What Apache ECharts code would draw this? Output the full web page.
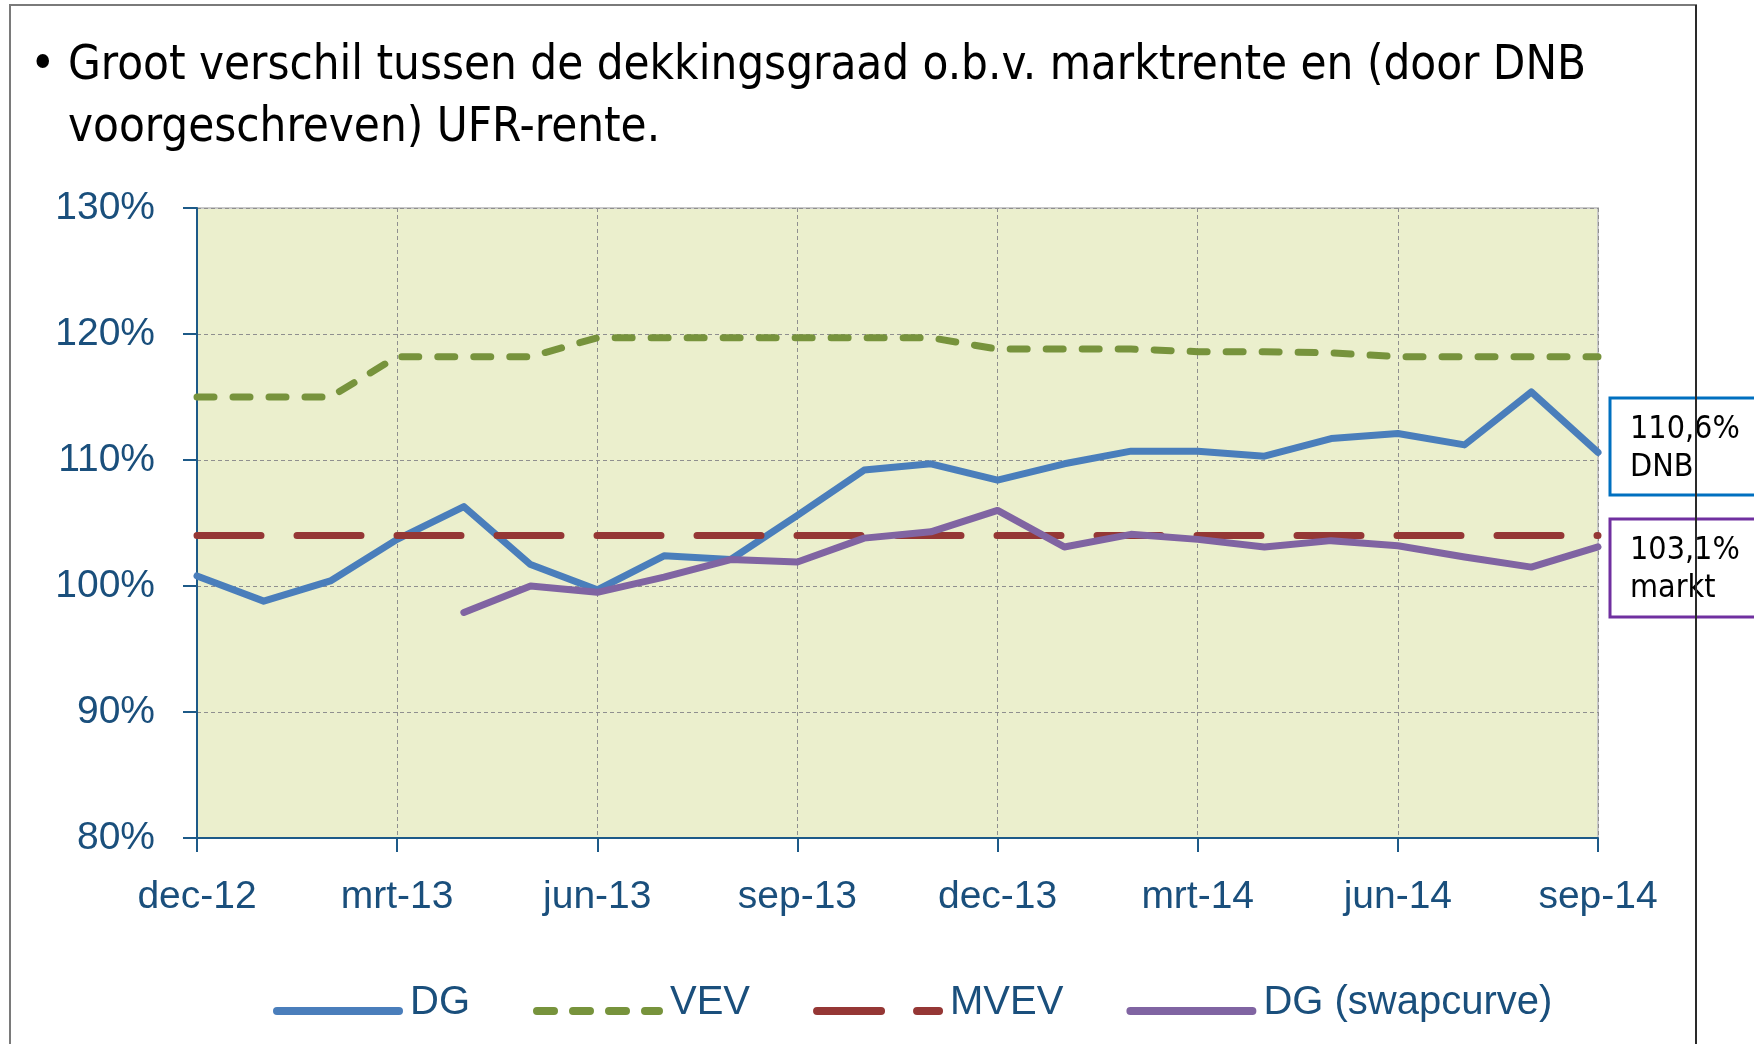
<!DOCTYPE html>
<html lang="nl">
<head>
    <meta charset="UTF-8">
    <title>dekkingsgraad</title>
    <script src="https://cdn.jsdelivr.net/npm/echarts@6.0.0/dist/echarts.min.js"></script>
    <style>
        html, body { margin: 0; padding: 0; background: #fff; }
    </style>
</head>
<body>
    <div id="main" style="width: 1754px;height:1044px;"></div>

    <script>
        // maanden (dec-12 t/m sep-14), alleen elke 3e wordt als label getoond
        var months = ['dec-12', 'jan-13', 'feb-13', 'mrt-13', 'apr-13', 'mei-13', 'jun-13', 'jul-13', 'aug-13',
            'sep-13', 'okt-13', 'nov-13', 'dec-13', 'jan-14', 'feb-14', 'mrt-14', 'apr-14', 'mei-14',
            'jun-14', 'jul-14', 'aug-14', 'sep-14'];
        var seriesNames = ['DG', 'VEV', 'MVEV', 'DG (swapcurve)'];

        // dekkingsgraad in %
        var dg = [100.8, 98.8, 100.4, 103.7, 106.3, 101.7, 99.7, 102.4, 102.1, 105.6, 109.2, 109.7,
            108.4, 109.7, 110.7, 110.7, 110.3, 111.7, 112.1, 111.2, 115.4, 110.6];
        var vev = [115.0, 115.0, 115.0, 118.2, 118.2, 118.2, 119.7, 119.7, 119.7, 119.7, 119.7, 119.7,
            118.8, 118.8, 118.8, 118.6, 118.6, 118.5, 118.2, 118.2, 118.2, 118.2];
        var mvev = [104, 104, 104, 104, 104, 104, 104, 104, 104, 104, 104, 104,
            104, 104, 104, 104, 104, 104, 104, 104, 104, 104];
        var dgSwap = [null, null, null, null, 97.9, 100.0, 99.5, 100.7, 102.1, 101.9, 103.8, 104.3,
            106.0, 103.1, 104.1, 103.7, 103.1, 103.6, 103.2, 102.3, 101.5, 103.1];

        var title1 = 'Groot verschil tussen de dekkingsgraad o.b.v. marktrente en (door DNB';
        var title2 = 'voorgeschreven) UFR-rente.';
        var noteDnb = ['110,6%', 'DNB'];
        var noteMarkt = ['103,1%', 'markt'];

        var axisBlue = '#1d5a88';
        var labelBlue = '#1a4f7c';
        var titleFont = '"DejaVu Sans Condensed", "DejaVu Sans", sans-serif';
        var labelFont = '"Liberation Sans", Arial, sans-serif';

        var myChart = echarts.init(document.getElementById('main'));

        function lineSeries(name, data, color, type) {
            return {
                name: name,
                type: 'line',
                data: data,
                symbol: 'none',
                connectNulls: false,
                lineStyle: {
                    color: color,
                    width: 7,
                    type: type,
                    cap: 'round',
                    join: 'round'
                },
                itemStyle: { color: color }
            };
        }

        var option = {
            animation: false,
            backgroundColor: '#ffffff',
            grid: {
                left: 197,
                right: 156,
                top: 208,
                bottom: 206,
                show: true,
                backgroundColor: '#ebefcd',
                borderColor: '#c9c9c9',
                borderWidth: 2
            },
            legend: {
                left: 268,
                top: 978,
                itemWidth: 122,
                itemHeight: 14,
                itemGap: 63,
                data: seriesNames,
                // lege tweede regel: tekst staat iets boven het lijnstukje
                formatter: '{name}\n ',
                lineStyle: { width: 8, cap: 'round' },
                itemStyle: { opacity: 0 },
                textStyle: {
                    fontFamily: labelFont,
                    fontSize: 40,
                    lineHeight: 16,
                    color: labelBlue,
                    padding: [0, 0, 0, 6]
                }
            },
            xAxis: {
                type: 'category',
                boundaryGap: false,
                data: months,
                axisLine: { lineStyle: { color: axisBlue, width: 2 } },
                axisTick: { interval: 2, length: 14, lineStyle: { color: axisBlue, width: 2 } },
                axisLabel: {
                    interval: 2,
                    margin: 40,
                    fontFamily: labelFont,
                    fontSize: 39,
                    color: labelBlue
                },
                splitLine: {
                    show: true,
                    interval: 2,
                    lineStyle: { color: '#8f8f8f', type: [4, 3], width: 1 }
                }
            },
            yAxis: {
                type: 'value',
                min: 80,
                max: 130,
                interval: 10,
                axisLine: { show: true, lineStyle: { color: axisBlue, width: 2 } },
                axisTick: { show: true, length: 14, lineStyle: { color: axisBlue, width: 2 } },
                axisLabel: {
                    margin: 42,
                    formatter: '{value}%',
                    fontFamily: labelFont,
                    fontSize: 39,
                    color: labelBlue
                },
                splitLine: {
                    lineStyle: { color: '#8f8f8f', type: [4, 3], width: 1 }
                }
            },
            series: [
                lineSeries('DG', dg, '#4a7ebb', 'solid'),
                lineSeries('VEV', vev, '#77933c', [17, 19]),
                lineSeries('MVEV', mvev, '#953735', [64, 36]),
                lineSeries('DG (swapcurve)', dgSwap, '#8064a2', 'solid')
            ],
            graphic: [
                // titel met opsommingsteken
                {
                    type: 'text', x: 30, y: 36,
                    style: { text: '\u2022', font: '48px ' + titleFont, fill: '#000', lineHeight: 62 }
                },
                {
                    type: 'text', x: 68, y: 36, scaleX: 0.98,
                    style: {
                        text: title1 + '\n' + title2,
                        font: '48px ' + titleFont,
                        fill: '#000',
                        lineHeight: 62
                    }
                },
                // kaders met eindwaarden
                {
                    type: 'rect', shape: { x: 1610, y: 398, width: 160, height: 97 },
                    style: { fill: '#fff', stroke: '#0070c0', lineWidth: 3 }, z: 10
                },
                {
                    type: 'text', x: 1630, y: 411, z: 11,
                    style: { text: noteDnb.join('\n'), font: '32px ' + titleFont, fill: '#000', lineHeight: 38 }
                },
                {
                    type: 'rect', shape: { x: 1610, y: 519, width: 160, height: 98 },
                    style: { fill: '#fff', stroke: '#7030a0', lineWidth: 3 }, z: 10
                },
                {
                    type: 'text', x: 1630, y: 532, z: 11,
                    style: { text: noteMarkt.join('\n'), font: '32px ' + titleFont, fill: '#000', lineHeight: 38 }
                },
                // dia-kader
                {
                    type: 'rect', shape: { x: 10, y: 5, width: 1686, height: 1060 },
                    style: { fill: null, stroke: '#7a7a7a', lineWidth: 2 }, z: 20
                },
                {
                    type: 'line', shape: { x1: 1696, y1: 5, x2: 1696, y2: 1044 },
                    style: { stroke: '#111', lineWidth: 1.5 }, z: 21
                }
            ]
        };

        myChart.setOption(option);
    </script>
</body>
</html>
